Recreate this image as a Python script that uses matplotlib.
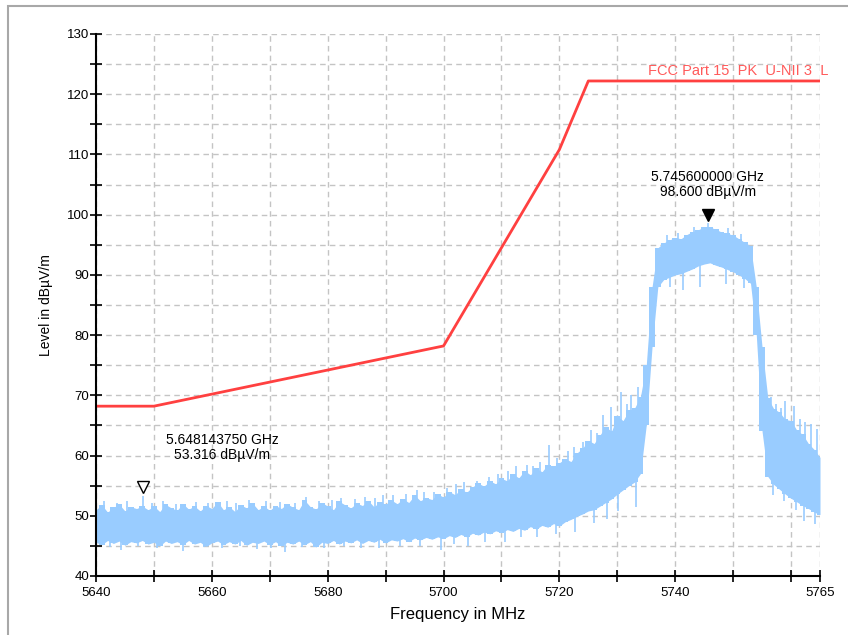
import numpy as np
import matplotlib
matplotlib.use("Agg")
import matplotlib.pyplot as plt
import matplotlib.patches as patches
from matplotlib.transforms import offset_copy

plt.rcParams['font.family'] = ['Liberation Sans', 'DejaVu Sans']

# spectrum envelope, 1 MHz steps from 5640 to 5765 MHz
freq = np.arange(5640, 5766, 1)
upper = [51.0, 51.8, 50.6, 51.4, 51.9, 50.8, 51.5, 51.2, 51.6, 51.0,
         51.6, 50.7, 51.9, 51.3, 50.9, 52.0, 51.1, 51.6, 50.8, 51.7,
         51.2, 52.3, 51.0, 51.5, 50.7, 51.8, 51.3, 52.1, 51.0, 51.6,
         50.9, 51.7, 51.2, 52.0, 51.4, 51.0, 52.6, 51.5, 51.1, 52.2,
         51.6, 51.0, 52.4, 51.8, 51.3, 52.1, 51.7, 52.5, 51.5, 52.3,
         51.9, 52.6, 52.0, 52.8, 52.2, 53.4, 52.5, 53.0, 52.7, 53.6,
         53.1, 54.0, 53.5, 54.4, 53.9, 54.8, 55.4, 54.9, 55.8, 55.3,
         56.2, 55.8, 56.9, 56.3, 57.5, 56.8, 57.9, 57.3, 58.5, 58.2,
         58.8, 59.5, 59.0, 60.4, 61.2, 62.5, 62.0, 63.4, 64.8, 64.0,
         66.5, 65.8, 67.5, 67.9, 69.8, 75.0, 88.0, 94.5, 95.3, 95.8,
         96.2, 96.0, 96.7, 97.2, 97.5, 98.0, 97.9, 97.6, 97.1, 96.9,
         96.6, 96.0, 95.4, 94.8, 88.0, 78.0, 69.5, 67.8, 67.2, 66.0,
         65.8, 64.2, 63.5, 62.0, 61.0, 59.7]
lower = [45.6, 45.2, 45.9, 45.4, 45.8, 45.1, 45.7, 45.5, 45.9, 45.3,
         45.6, 45.0, 45.8, 45.4, 45.7, 45.2, 45.9, 45.3, 45.6, 44.9,
         45.5, 45.8, 45.2, 45.7, 45.3, 45.9, 45.1, 45.6, 45.4, 45.8,
         45.2, 45.7, 45.0, 45.6, 45.3, 45.8, 45.2, 45.7, 44.8, 45.6,
         45.4, 45.9, 45.3, 45.8, 45.5, 46.0, 45.4, 45.9, 45.6, 46.1,
         45.5, 46.0, 45.8, 46.2, 45.7, 46.3, 46.0, 46.4, 46.1, 46.5,
         46.2, 46.7, 46.4, 46.9, 46.5, 47.1, 46.8, 47.3, 47.0, 47.5,
         47.2, 47.7, 47.4, 47.9, 47.6, 48.2, 47.8, 48.4, 48.1, 48.7,
         48.3, 49.0, 49.4, 49.9, 50.3, 50.8, 51.0, 51.6, 52.2, 52.8,
         53.6, 54.3, 55.0, 55.6, 57.0, 65.0, 78.0, 88.0, 89.2, 89.6,
         90.0, 90.2, 90.6, 91.0, 91.5, 91.8, 92.0, 91.6, 91.3, 90.9,
         90.5, 90.0, 89.4, 88.6, 80.0, 64.0, 56.5, 55.2, 54.4, 53.6,
         52.9, 52.3, 51.7, 51.2, 50.6, 50.2]

# single spikes above the envelope
spike_f = [5641.3, 5643.6, 5645.4, 5648.14, 5649.7, 5651.5, 5653.8, 5657.3,
           5659.4, 5662.6, 5664.2, 5666.5, 5669.3, 5671.8, 5674.4, 5676.2,
           5678.5, 5680.8, 5682.3, 5684.7, 5686.4, 5688.2, 5689.6, 5691.2,
           5693.5, 5695.5, 5696.7, 5698.3, 5700.6, 5702.2, 5703.5, 5705.7,
           5707.8, 5709.4, 5711.2, 5712.5, 5714.4, 5715.5, 5716.6, 5718.2,
           5719.6, 5721.5, 5722.6, 5724.1, 5725.4, 5726.5, 5727.6, 5729.0,
           5730.7, 5731.6, 5732.4, 5733.5, 5738.6, 5740.4, 5743.2, 5745.6,
           5749.2, 5751.4, 5756.5, 5757.4, 5758.2, 5759.0, 5760.5, 5761.6,
           5762.4, 5763.4, 5764.5]
spike_top = [52.4, 52.2, 52.5, 53.3, 52.1, 52.4, 52.0, 52.3,
             52.2, 52.5, 52.1, 52.6, 52.4, 52.3, 52.2, 53.1,
             52.5, 52.6, 52.9, 52.8, 53.1, 52.9, 53.4, 53.4,
             53.6, 54.2, 54.0, 54.0, 54.6, 55.2, 55.6, 55.8,
             56.5, 56.9, 57.4, 58.2, 58.4, 58.3, 59.0, 61.7,
             59.6, 60.8, 61.4, 62.2, 64.2, 63.8, 66.8, 68.0,
             70.6, 68.5, 70.0, 71.4, 96.6, 97.0, 97.9, 98.6,
             97.8, 96.8, 69.8, 68.6, 67.9, 69.0, 68.3, 66.0,
             65.6, 65.2, 64.4]
spike_base = [49, 49, 49, 48, 49, 49, 49, 49,
              49, 49, 49, 49, 49, 49, 49, 49,
              49, 49, 49, 49, 49, 50, 50, 50,
              50, 50, 50, 50, 51, 51, 51, 52,
              52, 52, 53, 53, 54, 54, 54, 55,
              55, 56, 56, 57, 58, 58, 59, 60,
              61, 61, 62, 62, 93, 93, 93, 93,
              93, 93, 60, 60, 59, 59, 58, 57,
              57, 56, 55]
# single dips below the envelope
dip_f = [5642.5, 5644.3, 5647.2, 5650.6, 5655.1, 5658.6, 5661.7, 5664.9,
         5667.8, 5670.3, 5672.6, 5675.6, 5679.3, 5682.9, 5685.8, 5688.9,
         5692.4, 5695.9, 5699.6, 5701.8, 5704.3, 5707.2, 5710.6, 5713.3,
         5716.2, 5719.4, 5722.7, 5725.9, 5728.3, 5730.1, 5733.2, 5739.1,
         5741.3, 5744.2, 5748.8, 5751.9, 5756.9, 5758.7, 5760.8, 5762.3,
         5764.1]
dip_bottom = [44.8, 44.4, 44.9, 44.7, 44.2, 44.8, 44.6, 44.9,
              44.5, 44.7, 44.0, 44.8, 44.6, 44.9, 44.7, 44.6,
              45.0, 44.9, 44.3, 45.3, 44.9, 45.6, 45.6, 46.4,
              46.5, 47.0, 47.3, 48.8, 49.5, 50.8, 51.5, 88.0,
              87.5, 88.0, 88.5, 87.8, 53.5, 52.5, 51.0, 49.2,
              48.6]
dip_top = [47, 47, 47, 47, 47, 47, 47, 47,
           47, 47, 47, 47, 47, 47, 47, 47,
           48, 48, 48, 48, 48, 49, 49, 50,
           50, 51, 51, 53, 54, 55, 56, 93,
           93, 93, 93, 93, 58, 57, 55, 54,
           54]

# limit line
limit_f = [5640, 5650, 5700, 5720, 5725, 5765]
limit_db = [68.2, 68.2, 78.2, 110.8, 122.2, 122.2]

peak_f, peak_db = 5745.6, 98.6
min_f, min_db = 5648.14375, 53.316

blue = '#99ccff'
red = '#ff4040'

fig = plt.figure(figsize=(8.48, 6.35), dpi=100)
ax = fig.add_axes([96 / 848, 1 - 576 / 635, 724 / 848, 542 / 635])

# linear fill closes the steep edges, stepped fill gives the ragged look
ax.fill_between(freq, lower, upper, color=blue, lw=0, zorder=2)
ax.fill_between(freq, lower, upper, color=blue, lw=0, step='mid', zorder=2)
ax.vlines(spike_f, spike_base, spike_top, color=blue, lw=1.2, zorder=2)
ax.vlines(dip_f, dip_bottom, dip_top, color=blue, lw=1.2, zorder=2)
ax.plot(limit_f, limit_db, color=red, lw=2, zorder=3)
ax.annotate('FCC Part 15  PK  U-NII 3  L', (5765, 122.2), xytext=(6, 2),
            textcoords='offset points', color='#ff5a5a', fontsize=10.5,
            ha='right', va='bottom', annotation_clip=False)

# markers
tr = offset_copy(ax.transData, fig=fig, x=0, y=6, units='points')
ax.plot(peak_f, peak_db, marker='v', color='black', ms=9, transform=tr,
        zorder=5)
ax.plot(min_f, min_db, marker='v', mfc='white', mec='black', mew=1,
        ms=9, transform=tr, zorder=5)
ax.annotate('5.745600000 GHz\n98.600 dBµV/m', (peak_f, peak_db),
            xytext=(0, 17), textcoords='offset points', ha='center',
            va='bottom', fontsize=10, linespacing=1.15)
ax.annotate('5.648143750 GHz\n53.316 dBµV/m', (min_f, min_db),
            xytext=(57, 24), textcoords='offset points', ha='center',
            va='bottom', fontsize=10, linespacing=1.15)

ax.set_xlim(5640, 5765)
ax.set_ylim(40, 130)
xt = list(range(5640, 5761, 10)) + [5765]
ax.set_xticks(xt)
ax.set_xticklabels([str(v) if ((v - 5640) % 20 == 0 and v < 5760) or v == 5765
                    else '' for v in xt])
ax.set_yticks(range(40, 131, 10))
ax.set_yticks(range(45, 130, 10), minor=True)
ax.tick_params(axis='both', which='both', direction='inout', length=8,
               width=1.2, labelsize=9.5)
ax.tick_params(axis='y', pad=1)
ax.tick_params(axis='x', pad=4)

for s in ['top', 'right']:
    ax.spines[s].set_visible(False)
for s in ['left', 'bottom']:
    ax.spines[s].set_linewidth(1.5)
    ax.spines[s].set_zorder(6)

ax.grid(True, which='both', color='#c4c4c4', lw=1, linestyle=(0, (4, 3)),
        zorder=1)
ax.set_axisbelow(True)

ax.set_xlabel('Frequency in MHz', fontsize=12, labelpad=6)
ax.set_ylabel('Level in dBµV/m', fontsize=10, labelpad=10)

fig.patches.append(patches.Rectangle((8 / 848, -0.1), 2, 1 - 6 / 635 + 0.1,
                                     transform=fig.transFigure, fill=False,
                                     edgecolor='#a8a8a8', lw=1.5))

fig.savefig('out.png', dpi=100)
